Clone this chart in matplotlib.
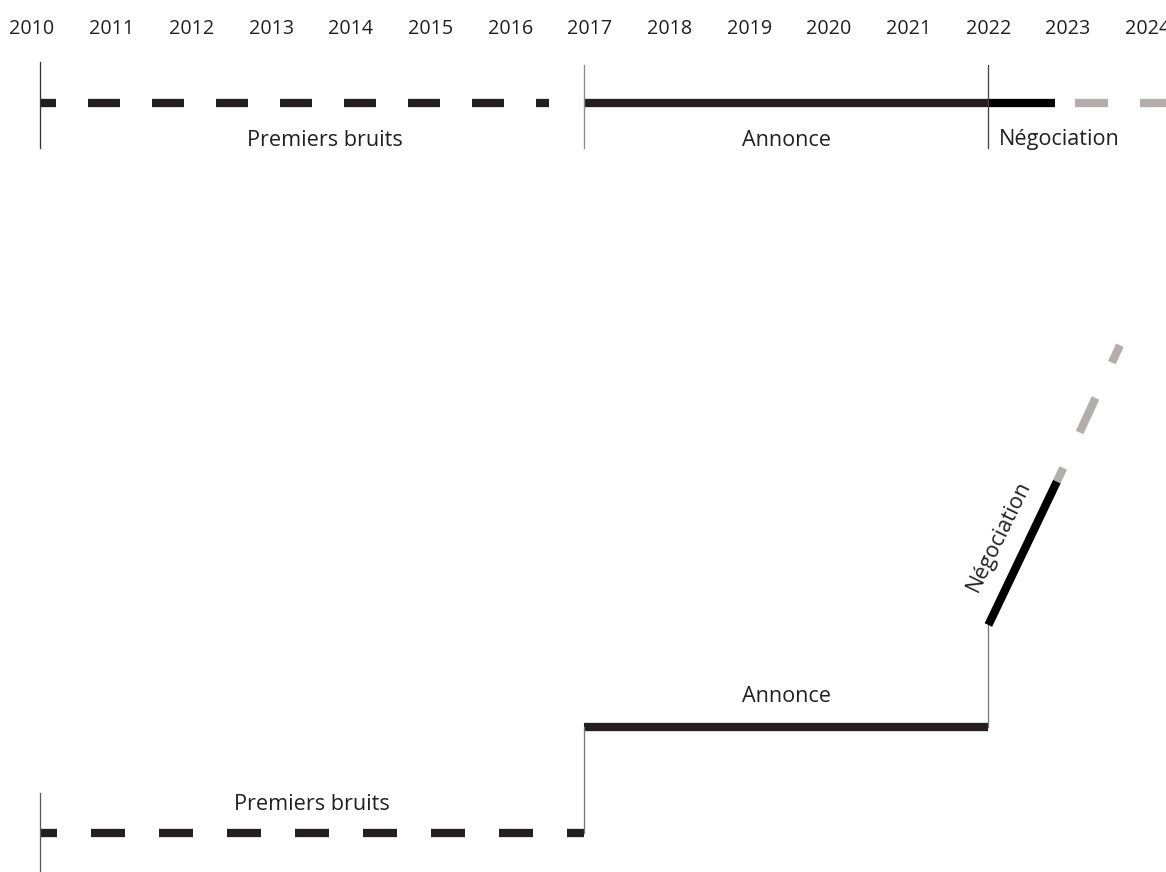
import matplotlib
matplotlib.use("Agg")
import matplotlib.pyplot as plt

# ---------------- data ----------------
years = list(range(2010, 2025))
year_labels = [str(y) for y in years]

phase_names = ["Premiers bruits", "Annonce", "Négociation"]
phase_starts = [2010.1, 2016.93, 2022.0]        # start of each phase
top_bruits_end = 2016.49                          # end of dashed rumour segment (top)
nego_end = 2022.84                                # end of solid negotiation (top)
projection_end = 2024.3                           # projected continuation (top)

# step chart (bottom): intensity levels
step_levels = [0.0, 1.02, 2.0]                    # level at start of each phase
nego_end_x = 2022.86
nego_end_level = 3.38
proj_end_x = 2023.65
proj_end_level = 4.69

# ---------------- styling ----------------
plt.rcParams["font.family"] = ["Open Sans", "DejaVu Sans"]
plt.rcParams["lines.scale_dashes"] = False
W, H = 1166, 872
DPI = 100
fig = plt.figure(figsize=(W / DPI, H / DPI), dpi=DPI)
fig.patch.set_facecolor("white")

PX = 0.72  # points per pixel
BLACK = "#231f20"
GRAY = "#b3adad"
THIN = "#5a5a5a"
LW = 8.3 * PX
TLW = 1.3 * PX

# x mapping: year label centres at px 32 + (y-2010)*79.7
x0 = 2010 - 32 / 79.7
x1 = x0 + W / 79.7

# ---------------- top timeline ----------------
top_h = 175
ax_t = fig.add_axes([0, 1 - top_h / H, 1, top_h / H])
ax_t.set_xlim(x0, x1)
ax_t.set_ylim(top_h, 0)
ax_t.axis("off")

for yr, lab in zip(years, year_labels):
    ax_t.text(yr, 29, lab, ha="center", va="center", fontsize=14.2, color=BLACK)

yline = 103
# rumours, dashed
ax_t.plot([phase_starts[0], top_bruits_end], [yline, yline], color=BLACK, lw=LW,
          solid_capstyle="butt", dash_capstyle="butt",
          linestyle=(16 * PX, (32 * PX, 32 * PX)))
# announcement, solid
ax_t.plot([phase_starts[1], phase_starts[2]], [yline, yline], color=BLACK, lw=LW,
          solid_capstyle="butt")
# negotiation, solid black
ax_t.plot([phase_starts[2], nego_end], [yline, yline], color="#000000", lw=LW,
          solid_capstyle="butt")
# projection, gray dashed
ax_t.plot([nego_end, projection_end], [yline, yline], color=GRAY, lw=LW,
          dash_capstyle="butt", linestyle=(45 * PX, (33 * PX, 32 * PX)))

# phase separators
ax_t.plot([phase_starts[0]] * 2, [62, 148], color="#333333", lw=TLW)
ax_t.plot([phase_starts[1]] * 2, [65, 148], color="#8a8a8a", lw=TLW)
ax_t.plot([phase_starts[2]] * 2, [65, 148], color="#444444", lw=TLW)

# phase labels
ax_t.text(2010 + (325 - 32) / 79.7, 140, phase_names[0], ha="center", va="center",
          fontsize=15.6, color=BLACK)
ax_t.text((phase_starts[1] + phase_starts[2]) / 2, 140, phase_names[1], ha="center",
          va="center", fontsize=15.6, color=BLACK)
ax_t.text(phase_starts[2] + 10 / 79.7, 140, phase_names[2], ha="left", va="center",
          fontsize=15.6, color=BLACK)

# ---------------- bottom step chart ----------------
bot_top_px = 300
ppu = 104.0  # pixels per level unit
ax_b = fig.add_axes([0, 0, 1, (H - bot_top_px) / H])
ax_b.set_xlim(x0, x1)
ax_b.set_ylim((833 - H) / ppu, (833 - bot_top_px) / ppu)
ax_b.axis("off")

# rumours dashed
ax_b.plot([phase_starts[0], phase_starts[1]], [step_levels[0]] * 2, color=BLACK, lw=LW,
          dash_capstyle="butt", linestyle=(17 * PX, (34 * PX, 34 * PX)))
# announcement
ax_b.plot([phase_starts[1], phase_starts[2]], [step_levels[1]] * 2, color=BLACK, lw=LW,
          solid_capstyle="butt")
# negotiation (diagonal)
ax_b.plot([phase_starts[2], nego_end_x], [step_levels[2], nego_end_level], color="#000000",
          lw=LW, solid_capstyle="butt")
# projection gray dashed
ax_b.plot([nego_end_x, proj_end_x], [nego_end_level, proj_end_level], color=GRAY, lw=LW,
          dash_capstyle="butt", linestyle=(23 * PX, (38 * PX, 39 * PX)))

# thin connectors
ax_b.plot([phase_starts[0]] * 2, [(833 - H) / ppu, 0.385], color=THIN, lw=TLW)
ax_b.plot([phase_starts[1]] * 2, [step_levels[0], step_levels[1]], color="#777777", lw=TLW)
ax_b.plot([phase_starts[2]] * 2, [step_levels[1], step_levels[2]], color="#777777", lw=TLW)

# labels
ax_b.text((phase_starts[0] + phase_starts[1]) / 2, 0.27, phase_names[0], ha="center",
          va="center", fontsize=15.6, color=BLACK)
ax_b.text((phase_starts[1] + phase_starts[2]) / 2, 1.31, phase_names[1], ha="center",
          va="center", fontsize=15.6, color=BLACK)
ax_b.text(2010 + (999 - 32) / 79.7, 2.85, phase_names[2], ha="center", va="center",
          rotation=64, rotation_mode="anchor", fontsize=15.6, color=BLACK)

fig.savefig("out.png", dpi=DPI, facecolor="white")
